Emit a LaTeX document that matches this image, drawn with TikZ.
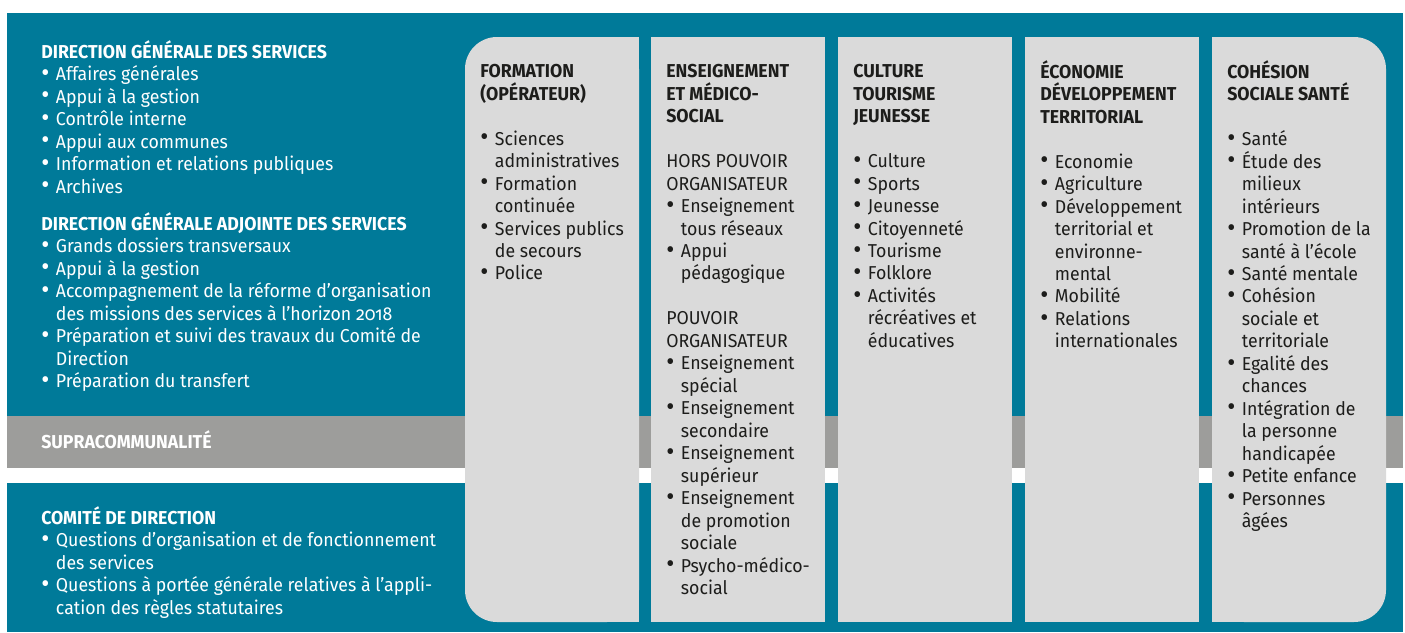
\documentclass[tikz,border=0pt]{standalone}
\usepackage{fontspec}
\setmainfont{Fira Sans}[FakeStretch=0.95]
\usepackage{graphicx}
\usepackage{tikz}
\usetikzlibrary{positioning}

\definecolor{petrol}{HTML}{007A99}
\definecolor{band}{HTML}{9D9D9B}
\definecolor{colgray}{HTML}{DADADA}
\definecolor{ink}{HTML}{1D1D1B}

\newcommand{\bl}{\makebox[11pt][l]{\raisebox{-0.5pt}{\scalebox{1.4}{\textbullet}}}}
\newcommand{\ct}{\hspace*{11pt}}
\newcommand{\fl}{\rule{0pt}{13pt}}
\newcommand{\os}[1]{{\addfontfeature{Numbers=OldStyle}#1}}

\begin{document}
\begin{tikzpicture}[x=0.75pt, y=-0.75pt,
    txt/.style={anchor=north west, yshift=13pt, align=left, inner sep=0pt,
      font=\fontsize{14}{16.85}\selectfont},
    wtxt/.style={txt, text=white},
    ctxt/.style={txt, text=ink}]
    \useasboundingbox (0,0) rectangle (1405,632);

    % bands
    \fill[petrol] (7,13) rectangle (1403,416);
    \fill[band]   (7,416) rectangle (1403,468);
    \fill[petrol] (7,483) rectangle (1403,632);

    % columns
    \def\w{174};
    \def\r{24pt};
    \foreach \x in {651,838,1025}
        \fill[colgray] (\x,37) rectangle (\x+\w,622);
    \fill[colgray, rounded corners=\r] (465,37) rectangle (639,622);
    \fill[colgray] (540,37) rectangle (639,622);
    \fill[colgray, rounded corners=\r] (1212,37) rectangle (1386,622);
    \fill[colgray] (1212,37) rectangle (1300,622);

    % left side
    \node[wtxt] (dgs) at (41,57.5) {\fl\textbf{DIRECTION GÉNÉRALE DES SERVICES}\\
        \bl Affaires générales\\
        \bl Appui à la gestion\\
        \bl Contrôle interne\\
        \bl Appui aux communes\\
        \bl Information et relations publiques\\
        \bl Archives};
    \node[wtxt] (dga) at (41,229.5) {\fl\textbf{DIRECTION GÉNÉRALE ADJOINTE DES SERVICES}\\
        \bl Grands dossiers transversaux\\
        \bl Appui à la gestion\\
        \bl Accompagnement de la réforme d’organisation\\
        \ct des missions des services à l’horizon \os{2018}\\
        \bl Préparation et suivi des travaux du Comité de\\
        \ct Direction\\
        \bl Préparation du transfert};
    \node[wtxt] (supra) at (41,447.5) {\fl\textbf{SUPRACOMMUNALITÉ}};
    \node[wtxt] (codir) at (41,523.5) {\fl\textbf{COMITÉ DE DIRECTION}\\
        \bl Questions d’organisation et de fonctionnement\\
        \ct des services\\
        \bl Questions à portée générale relatives à l’appli-\\
        \ct cation des règles statutaires};

    % column texts
    \node[ctxt] (form) at (480,77.5) {\fl\textbf{FORMATION}\\
        \textbf{(OPÉRATEUR)}\\ \\
        \bl Sciences\\ \ct administratives\\
        \bl Formation\\ \ct continuée\\
        \bl Services publics\\ \ct de secours\\
        \bl Police};
    \node[ctxt] (ens) at (666,77.5) {\fl\textbf{ENSEIGNEMENT}\\
        \textbf{ET MÉDICO-}\\ \textbf{SOCIAL}\\ \\
        HORS POUVOIR\\ ORGANISATEUR\\
        \bl Enseignement\\ \ct tous réseaux\\
        \bl Appui\\ \ct pédagogique\\ \\
        POUVOIR\\ ORGANISATEUR\\
        \bl Enseignement\\ \ct spécial\\
        \bl Enseignement\\ \ct secondaire\\
        \bl Enseignement\\ \ct supérieur\\
        \bl Enseignement\\ \ct de promotion\\ \ct sociale\\
        \bl Psycho-médico-\\ \ct social};
    \node[ctxt] (cult) at (853,77.5) {\fl\textbf{CULTURE}\\
        \textbf{TOURISME}\\ \textbf{JEUNESSE}\\ \\
        \bl Culture\\
        \bl Sports\\
        \bl Jeunesse\\
        \bl Citoyenneté\\
        \bl Tourisme\\
        \bl Folklore\\
        \bl Activités\\ \ct récréatives et\\ \ct éducatives};
    \node[ctxt] (eco) at (1040,77.5) {\fl\textbf{ÉCONOMIE}\\
        \textbf{DÉVELOPPEMENT}\\ \textbf{TERRITORIAL}\\ \\
        \bl Economie\\
        \bl Agriculture\\
        \bl Développement\\ \ct territorial et\\ \ct environne-\\ \ct mental\\
        \bl Mobilité\\
        \bl Relations\\ \ct internationales};
    \node[ctxt] (coh) at (1227,77.5) {\fl\textbf{COHÉSION}\\
        \textbf{SOCIALE SANTÉ}\\ \\
        \bl Santé\\
        \bl Étude des\\ \ct milieux\\ \ct intérieurs\\
        \bl Promotion de la\\ \ct santé à l’école\\
        \bl Santé mentale\\
        \bl Cohésion\\ \ct sociale et\\ \ct territoriale\\
        \bl Egalité des\\ \ct chances\\
        \bl Intégration de\\ \ct la personne\\ \ct handicapée\\
        \bl Petite enfance\\
        \bl Personnes\\ \ct âgées};

\end{tikzpicture}
\end{document}
